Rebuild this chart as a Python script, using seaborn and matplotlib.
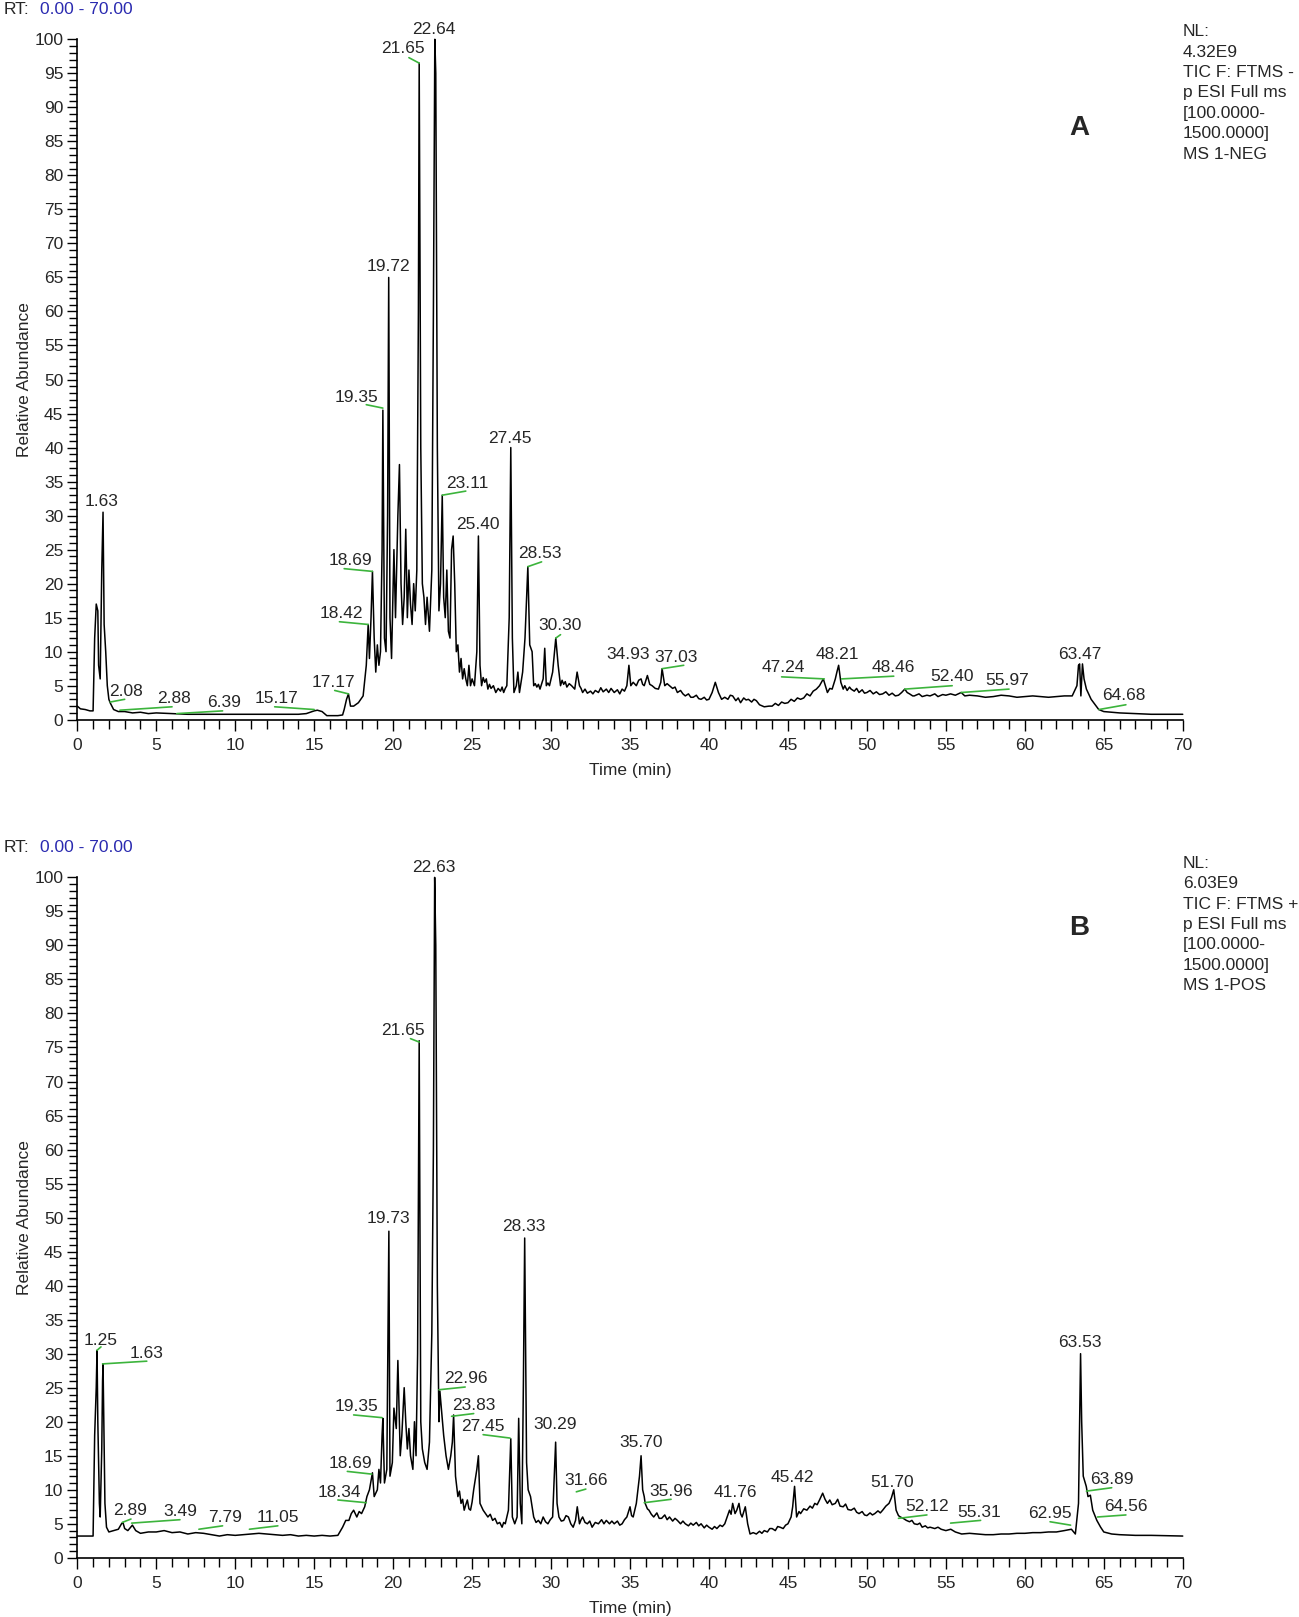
import matplotlib
matplotlib.use("Agg")
import matplotlib.pyplot as plt
import seaborn as sns
import pandas as pd
from matplotlib.ticker import MultipleLocator

# ---------------- Panel A (negative mode) trace: (time, relative abundance) ----------------
trace_a = [
    (0.0, 2.0), (0.2, 1.6), (0.5, 1.5), (0.8, 1.3), (1.0, 1.3), (1.1, 12.0), (1.2, 17.0), (1.3, 16.0),
    (1.35, 8.0), (1.45, 6.0), (1.55, 22.0), (1.63, 30.5), (1.7, 14.0), (1.8, 10.0), (1.9, 5.0),
    (2.0, 3.0), (2.08, 2.5), (2.3, 1.5), (2.6, 1.2), (3.0, 1.2), (3.5, 1.0), (4.0, 1.1), (4.5, 0.9),
    (5.0, 1.0), (6.0, 0.9), (7.0, 0.8), (8.0, 0.8), (9.0, 0.8), (10.0, 0.8), (11.0, 0.8), (12.0, 0.8),
    (13.0, 0.8), (14.0, 0.8), (14.5, 0.9), (15.0, 1.3), (15.2, 1.4), (15.5, 1.2), (15.8, 0.6),
    (16.5, 0.6), (16.8, 0.7), (16.9, 1.5), (17.05, 3.0), (17.17, 3.8), (17.3, 2.0), (17.5, 2.0),
    (17.8, 2.5), (18.1, 3.5), (18.3, 8.0), (18.42, 14.0), (18.5, 9.0), (18.6, 15.0), (18.69, 21.8),
    (18.8, 12.0), (18.9, 7.0), (19.0, 11.0), (19.1, 8.0), (19.2, 10.0), (19.3, 25.0), (19.35, 45.5),
    (19.45, 12.0), (19.55, 10.0), (19.65, 30.0), (19.72, 65.0), (19.8, 15.0), (19.9, 9.0),
    (20.05, 25.0), (20.15, 15.0), (20.3, 30.0), (20.4, 37.5), (20.5, 20.0), (20.6, 14.0),
    (20.7, 18.0), (20.8, 28.0), (20.9, 15.0), (21.0, 22.0), (21.1, 17.0), (21.2, 14.0), (21.3, 20.0),
    (21.4, 16.0), (21.5, 22.0), (21.6, 60.0), (21.65, 96.5), (21.75, 40.0), (21.85, 20.0),
    (21.95, 18.0), (22.05, 14.0), (22.15, 18.0), (22.3, 13.0), (22.45, 22.0), (22.55, 60.0),
    (22.64, 100.0), (22.7, 95.0), (22.8, 40.0), (22.9, 16.0), (23.0, 20.0), (23.11, 33.0),
    (23.2, 18.0), (23.3, 15.0), (23.4, 22.0), (23.5, 13.0), (23.6, 12.0), (23.7, 25.0), (23.8, 27.0),
    (23.9, 20.0), (24.0, 10.0), (24.1, 11.0), (24.2, 7.0), (24.3, 9.0), (24.4, 6.0), (24.5, 7.5),
    (24.6, 6.0), (24.7, 5.0), (24.8, 8.0), (24.9, 5.0), (25.0, 6.0), (25.15, 5.0), (25.3, 10.0),
    (25.4, 27.0), (25.5, 8.0), (25.6, 5.0), (25.7, 6.2), (25.8, 5.5), (25.9, 6.0), (26.0, 4.5),
    (26.1, 5.2), (26.2, 4.6), (26.35, 5.0), (26.5, 4.0), (26.65, 4.6), (26.8, 4.2), (26.9, 4.8),
    (27.0, 4.0), (27.1, 4.6), (27.2, 5.0), (27.35, 15.0), (27.45, 40.0), (27.55, 12.0), (27.65, 4.0),
    (27.8, 5.0), (27.9, 7.0), (28.0, 4.0), (28.2, 7.0), (28.35, 12.0), (28.45, 18.0), (28.53, 22.5),
    (28.65, 11.0), (28.8, 10.0), (28.9, 5.0), (29.0, 5.3), (29.1, 4.8), (29.2, 5.2), (29.3, 4.5),
    (29.5, 6.0), (29.6, 10.5), (29.7, 5.0), (29.8, 5.4), (29.9, 5.0), (30.1, 7.0), (30.3, 12.0),
    (30.45, 8.0), (30.6, 5.0), (30.7, 5.8), (30.8, 5.2), (30.9, 5.6), (31.0, 4.8), (31.15, 5.3),
    (31.3, 5.0), (31.5, 4.5), (31.65, 7.0), (31.8, 5.0), (31.9, 4.6), (32.0, 4.0), (32.15, 4.5),
    (32.3, 3.9), (32.5, 4.2), (32.65, 3.8), (32.8, 4.3), (33.0, 4.0), (33.15, 4.7), (33.3, 4.1),
    (33.5, 4.5), (33.65, 4.0), (33.8, 4.6), (34.0, 4.0), (34.2, 4.4), (34.35, 3.8), (34.5, 4.5),
    (34.65, 4.2), (34.8, 5.0), (34.93, 8.0), (35.05, 5.0), (35.2, 5.5), (35.4, 5.0), (35.55, 5.8),
    (35.7, 6.0), (35.8, 5.2), (35.9, 5.0), (36.1, 6.5), (36.25, 5.2), (36.4, 5.0), (36.6, 4.6),
    (36.8, 4.5), (36.95, 5.5), (37.03, 7.5), (37.2, 5.0), (37.35, 5.3), (37.5, 5.0), (37.7, 4.6),
    (37.85, 4.8), (38.0, 4.0), (38.2, 4.3), (38.35, 3.8), (38.5, 3.5), (38.7, 3.8), (38.85, 3.3),
    (39.0, 3.3), (39.2, 3.6), (39.35, 3.1), (39.5, 3.0), (39.7, 3.3), (39.85, 2.9), (40.0, 3.0),
    (40.2, 4.0), (40.4, 5.5), (40.6, 4.0), (40.8, 3.0), (41.0, 3.3), (41.2, 3.0), (41.35, 3.6),
    (41.5, 3.5), (41.7, 2.8), (41.85, 3.2), (42.0, 2.5), (42.2, 3.2), (42.35, 2.9), (42.5, 3.0),
    (42.7, 2.6), (42.85, 3.0), (43.0, 2.8), (43.2, 2.2), (43.5, 1.9), (43.8, 2.0), (44.0, 2.0),
    (44.2, 2.4), (44.4, 2.1), (44.6, 2.6), (44.8, 2.4), (45.0, 2.5), (45.2, 3.0), (45.4, 2.7),
    (45.6, 3.2), (45.8, 3.0), (46.0, 3.2), (46.2, 3.8), (46.4, 3.5), (46.6, 4.2), (46.8, 4.5),
    (47.0, 5.0), (47.24, 6.0), (47.4, 4.8), (47.5, 4.0), (47.65, 4.6), (47.8, 4.5), (48.0, 6.0),
    (48.1, 7.0), (48.21, 8.0), (48.35, 5.5), (48.5, 4.5), (48.6, 5.0), (48.75, 4.3), (48.9, 4.8),
    (49.0, 4.5), (49.2, 4.2), (49.35, 4.6), (49.5, 4.0), (49.7, 4.4), (49.85, 3.9), (50.0, 4.0),
    (50.2, 4.3), (50.4, 3.8), (50.6, 4.1), (50.8, 3.7), (51.0, 3.8), (51.2, 4.1), (51.4, 3.6),
    (51.6, 3.9), (51.8, 3.5), (52.0, 3.6), (52.2, 4.0), (52.4, 4.5), (52.55, 4.0), (52.7, 3.8),
    (52.9, 3.5), (53.0, 3.5), (53.3, 3.8), (53.5, 3.4), (53.8, 3.6), (54.0, 3.5), (54.3, 3.8),
    (54.5, 3.4), (54.8, 3.7), (55.0, 3.6), (55.3, 3.8), (55.6, 3.6), (55.97, 4.0), (56.2, 3.5),
    (56.5, 3.6), (57.0, 3.5), (57.5, 3.3), (58.0, 3.4), (58.5, 3.6), (59.0, 3.5), (59.5, 3.3),
    (60.0, 3.4), (60.5, 3.5), (61.0, 3.4), (61.5, 3.3), (62.0, 3.4), (62.5, 3.5), (63.0, 3.5),
    (63.3, 5.0), (63.4, 8.0), (63.47, 8.2), (63.55, 3.5), (63.65, 8.2), (63.75, 6.0), (63.9, 4.5),
    (64.2, 3.0), (64.68, 1.5), (65.0, 1.2), (66.0, 1.0), (67.0, 0.9), (68.0, 0.8), (70.0, 0.8),
]

# ---------------- Panel B (positive mode) trace ----------------
trace_b = [
    (0.0, 3.2), (1.0, 3.2), (1.1, 18.0), (1.2, 25.0), (1.25, 30.5), (1.3, 20.0), (1.4, 8.0),
    (1.45, 6.0), (1.55, 16.0), (1.6, 26.0), (1.63, 28.5), (1.7, 16.0), (1.75, 8.0), (1.85, 4.5),
    (2.0, 3.8), (2.3, 4.0), (2.6, 4.2), (2.8, 5.0), (2.89, 5.2), (3.0, 4.3), (3.2, 4.0), (3.49, 4.8),
    (3.7, 4.0), (4.0, 3.6), (4.5, 3.8), (5.0, 3.8), (5.5, 4.0), (6.0, 3.7), (6.5, 3.8), (7.0, 3.5),
    (7.5, 3.7), (8.0, 3.6), (8.5, 3.4), (9.0, 3.2), (9.5, 3.4), (10.0, 3.3), (10.5, 3.4), (11.0, 3.5),
    (11.5, 3.6), (12.0, 3.5), (12.5, 3.4), (13.0, 3.3), (13.5, 3.4), (14.0, 3.2), (14.5, 3.3),
    (15.0, 3.2), (15.5, 3.3), (16.0, 3.2), (16.5, 3.3), (16.8, 4.5), (17.0, 5.5), (17.2, 5.5),
    (17.35, 6.5), (17.5, 7.0), (17.7, 6.0), (17.85, 6.8), (18.0, 6.5), (18.2, 7.5), (18.34, 9.0),
    (18.5, 10.0), (18.69, 12.5), (18.8, 9.0), (19.0, 10.0), (19.1, 13.0), (19.2, 11.0), (19.3, 18.0),
    (19.35, 20.5), (19.45, 11.0), (19.6, 13.0), (19.73, 48.0), (19.8, 12.0), (19.95, 14.0),
    (20.05, 22.0), (20.2, 19.0), (20.3, 29.0), (20.45, 15.0), (20.55, 18.0), (20.7, 25.0),
    (20.8, 20.0), (20.9, 16.0), (21.0, 19.0), (21.1, 15.0), (21.25, 13.0), (21.35, 20.0),
    (21.45, 15.0), (21.55, 30.0), (21.65, 76.0), (21.75, 20.0), (21.85, 16.0), (22.0, 14.0),
    (22.15, 13.0), (22.3, 17.0), (22.45, 33.0), (22.55, 60.0), (22.63, 100.0), (22.7, 90.0),
    (22.8, 40.0), (22.9, 20.0), (22.96, 24.5), (23.05, 22.0), (23.2, 18.0), (23.35, 15.0),
    (23.5, 13.0), (23.65, 15.0), (23.75, 17.0), (23.83, 21.0), (23.95, 12.0), (24.1, 9.0),
    (24.2, 9.8), (24.3, 8.0), (24.4, 8.6), (24.5, 7.0), (24.6, 7.8), (24.7, 8.5), (24.8, 7.2),
    (24.9, 7.0), (25.0, 8.2), (25.1, 10.0), (25.3, 13.0), (25.4, 15.0), (25.5, 8.0), (25.6, 7.5),
    (25.7, 7.0), (25.85, 6.5), (26.0, 6.0), (26.15, 6.4), (26.3, 5.5), (26.45, 5.8), (26.6, 5.0),
    (26.75, 5.2), (26.9, 4.5), (27.0, 5.2), (27.1, 5.0), (27.3, 7.0), (27.45, 17.5), (27.55, 6.0),
    (27.7, 5.0), (27.85, 6.0), (27.95, 20.5), (28.05, 8.0), (28.15, 5.0), (28.25, 26.0),
    (28.33, 47.0), (28.45, 14.0), (28.55, 10.0), (28.7, 9.0), (28.9, 6.0), (29.05, 5.2), (29.2, 5.5),
    (29.35, 5.0), (29.5, 6.0), (29.65, 5.3), (29.8, 5.0), (29.95, 5.6), (30.1, 6.0), (30.2, 12.0),
    (30.29, 17.0), (30.38, 8.0), (30.5, 6.0), (30.65, 5.4), (30.8, 5.5), (30.95, 6.2), (31.1, 6.0),
    (31.25, 5.0), (31.4, 4.5), (31.55, 5.5), (31.66, 7.5), (31.8, 5.0), (31.9, 5.6), (32.0, 6.0),
    (32.15, 5.2), (32.3, 5.0), (32.45, 5.4), (32.6, 4.5), (32.8, 5.2), (33.0, 5.0), (33.2, 5.6),
    (33.35, 5.0), (33.5, 5.5), (33.7, 5.0), (33.85, 5.4), (34.0, 5.0), (34.2, 5.4), (34.35, 4.8),
    (34.5, 5.0), (34.65, 5.6), (34.8, 6.0), (35.0, 7.5), (35.1, 6.2), (35.2, 6.0), (35.4, 8.0),
    (35.6, 12.0), (35.7, 15.0), (35.8, 10.0), (35.9, 9.0), (35.96, 8.0), (36.1, 7.2), (36.2, 7.0),
    (36.35, 6.4), (36.5, 6.0), (36.7, 6.6), (36.85, 5.8), (37.0, 5.8), (37.2, 6.3), (37.35, 5.6),
    (37.5, 6.0), (37.7, 5.4), (37.85, 5.8), (38.0, 5.5), (38.2, 5.0), (38.35, 5.4), (38.5, 5.0),
    (38.7, 4.7), (38.85, 5.1), (39.0, 4.8), (39.2, 5.2), (39.35, 4.7), (39.5, 5.0), (39.7, 4.4),
    (39.85, 4.8), (40.0, 4.5), (40.2, 4.2), (40.35, 4.6), (40.5, 4.3), (40.7, 4.8), (40.85, 4.6),
    (41.0, 5.0), (41.15, 6.0), (41.3, 7.0), (41.4, 6.4), (41.5, 8.0), (41.65, 6.5), (41.76, 7.0),
    (41.9, 8.0), (42.0, 6.5), (42.1, 6.0), (42.3, 7.5), (42.45, 5.0), (42.6, 3.5), (42.8, 3.7),
    (43.0, 3.5), (43.2, 3.9), (43.35, 3.6), (43.5, 4.0), (43.7, 3.8), (43.85, 4.3), (44.0, 4.3),
    (44.2, 4.0), (44.35, 4.6), (44.5, 4.5), (44.7, 4.3), (44.85, 4.8), (45.0, 5.0), (45.2, 6.0),
    (45.3, 7.5), (45.42, 10.5), (45.55, 6.0), (45.7, 6.8), (45.8, 6.5), (46.0, 7.2), (46.2, 7.0),
    (46.4, 7.6), (46.55, 7.3), (46.7, 8.0), (46.85, 7.8), (47.0, 8.5), (47.2, 9.5), (47.35, 8.6),
    (47.5, 8.0), (47.65, 8.5), (47.8, 7.8), (48.0, 8.0), (48.15, 8.6), (48.3, 7.6), (48.5, 7.5),
    (48.65, 7.9), (48.8, 7.1), (49.0, 7.0), (49.2, 7.3), (49.35, 6.7), (49.5, 6.5), (49.7, 6.8),
    (49.85, 6.3), (50.0, 6.2), (50.2, 6.6), (50.35, 6.3), (50.5, 6.5), (50.7, 6.9), (50.85, 6.6),
    (51.0, 7.0), (51.2, 7.6), (51.4, 8.0), (51.55, 8.8), (51.7, 10.0), (51.85, 7.0), (52.0, 6.2),
    (52.12, 6.0), (52.3, 5.8), (52.5, 5.5), (52.7, 5.3), (52.85, 5.5), (53.0, 5.0), (53.2, 4.9),
    (53.35, 5.1), (53.5, 4.5), (53.7, 4.7), (53.85, 4.4), (54.0, 4.5), (54.3, 4.3), (54.5, 4.5),
    (54.7, 4.2), (55.0, 4.0), (55.31, 4.2), (55.6, 3.8), (56.0, 3.5), (56.5, 3.6), (57.0, 3.5),
    (57.5, 3.4), (58.0, 3.4), (58.5, 3.5), (59.0, 3.5), (59.5, 3.6), (60.0, 3.6), (60.5, 3.7),
    (61.0, 3.7), (61.5, 3.8), (62.0, 3.8), (62.5, 4.0), (62.95, 4.2), (63.2, 3.5), (63.4, 8.0),
    (63.53, 30.0), (63.6, 20.0), (63.7, 12.0), (63.89, 10.5), (64.0, 9.0), (64.15, 9.2), (64.3, 7.0),
    (64.56, 5.5), (64.8, 4.5), (65.0, 3.8), (65.5, 3.5), (66.0, 3.4), (67.0, 3.3), (68.0, 3.3),
    (70.0, 3.2),
]
time_a = [p[0] for p in trace_a]
abund_a = [p[1] for p in trace_a]
time_b = [p[0] for p in trace_b]
abund_b = [p[1] for p in trace_b]

# ---------------- Peak labels (text, x, bottom y) ----------------
labels_a = ["22.64", "21.65", "19.72", "19.35", "27.45", "23.11", "25.40", "1.63", "28.53",
            "18.69", "18.42", "17.17", "15.17", "6.39", "2.88", "2.08", "30.30", "34.93",
            "37.03", "47.24", "48.21", "48.46", "52.40", "55.97", "63.47", "64.68"]
lab_x_a = [22.6, 20.64, 19.7, 17.7, 27.4, 24.7, 25.35, 1.55, 29.3,
           17.3, 16.7, 16.2, 12.6, 9.3, 6.1, 3.1, 30.6, 34.9,
           37.9, 44.7, 48.15, 51.7, 55.4, 58.9, 63.5, 66.3]
lab_y_a = [100.3, 97.5, 65.5, 46.3, 40.2, 33.6, 27.6, 30.9, 23.3,
           22.3, 14.5, 4.4, 2.0, 1.4, 2.0, 3.0, 12.7, 8.5,
           8.1, 6.5, 8.5, 6.5, 5.2, 4.6, 8.5, 2.4]
green_a = [(21.0, 97.3, 21.65, 96.5), (18.3, 46.3, 19.35, 45.8), (23.11, 33.0, 24.6, 33.6),
           (28.53, 22.5, 29.4, 23.2), (16.9, 22.2, 18.69, 21.8), (16.6, 14.4, 18.42, 14.0),
           (16.3, 4.3, 17.17, 3.8), (12.5, 1.9, 15.0, 1.5), (6.3, 0.9, 9.2, 1.3),
           (2.7, 1.4, 6.0, 1.9), (2.08, 2.6, 3.0, 3.0), (30.3, 12.0, 30.6, 12.5),
           (37.03, 7.5, 38.4, 8.0), (44.6, 6.3, 47.3, 6.0), (48.4, 6.0, 51.7, 6.4),
           (52.4, 4.5, 55.4, 5.0), (55.97, 4.0, 59.0, 4.5), (64.7, 1.5, 66.4, 2.2)]

labels_b = ["22.63", "21.65", "19.73", "28.33", "1.25", "1.63", "2.89", "3.49", "7.79", "11.05",
            "18.34", "18.69", "19.35", "22.96", "23.83", "27.45", "30.29", "31.66", "35.70",
            "35.96", "41.76", "45.42", "51.70", "52.12", "55.31", "62.95", "63.53", "63.89",
            "64.56"]
lab_x_b = [22.55, 20.6, 19.7, 28.3, 1.5, 4.4, 3.35, 6.5, 9.35, 12.7,
           16.6, 17.3, 17.7, 24.6, 25.1, 25.7, 30.27, 32.2, 35.7,
           37.6, 41.65, 45.3, 51.6, 53.8, 57.1, 61.6, 63.5, 65.5,
           66.4]
lab_y_b = [100.3, 76.4, 48.8, 47.6, 30.9, 28.9, 5.8, 5.7, 4.8, 4.8,
           8.5, 12.7, 21.1, 25.2, 21.3, 18.2, 18.5, 10.2, 15.8,
           8.7, 8.5, 10.7, 10.0, 6.4, 5.6, 5.4, 30.6, 10.4,
           6.4]
green_b = [(21.1, 76.3, 21.65, 75.8), (1.25, 30.5, 1.5, 31.0), (1.6, 28.5, 4.4, 28.9),
           (2.85, 5.2, 3.4, 5.7), (3.44, 5.1, 6.5, 5.6), (7.7, 4.2, 9.2, 4.7),
           (10.9, 4.2, 12.7, 4.7), (16.5, 8.5, 18.3, 8.1), (17.1, 12.7, 18.65, 12.3),
           (17.5, 21.0, 19.3, 20.6), (22.9, 24.7, 24.56, 25.1), (23.7, 20.8, 25.1, 21.2),
           (25.7, 18.1, 27.4, 17.6), (31.6, 9.7, 32.2, 10.1), (35.9, 8.1, 37.6, 8.6),
           (52.0, 5.8, 53.8, 6.3), (55.3, 5.1, 57.2, 5.5), (61.6, 5.3, 62.9, 4.8),
           (63.9, 9.8, 65.5, 10.3), (64.6, 6.0, 66.4, 6.3)]

nl_a = ["NL:", "4.32E9", "TIC F: FTMS -", "p ESI Full ms", "[100.0000-", "1500.0000]", "MS 1-NEG"]
nl_b = ["NL:", "6.03E9", "TIC F: FTMS +", "p ESI Full ms", "[100.0000-", "1500.0000]", "MS 1-POS"]

# ---------------- Drawing ----------------
sns.set_style("ticks")
plt.rcParams['font.family'] = ['Liberation Sans', 'DejaVu Sans']
FS = 12.5
GREEN = '#3cb43c'
BLUE = '#2a2ab0'

fig = plt.figure(figsize=(12.99, 16.17), dpi=100)
axA = fig.add_axes([0.0595, 0.5549, 0.851, 0.4208])
axB = fig.add_axes([0.0595, 0.0366, 0.851, 0.4208])


def draw_panel(ax, t, v, labs, lx, ly, greens):
    df = pd.DataFrame({"Time (min)": t, "Relative Abundance": v})
    sns.lineplot(data=df, x="Time (min)", y="Relative Abundance", ax=ax, color='black',
                 linewidth=1.1, sort=False, estimator=None)
    for ln in ax.lines:
        ln.set_clip_on(False)
    for (x0, y0, x1, y1) in greens:
        ax.plot([x0, x1], [y0, y1], color=GREEN, lw=1.2, clip_on=False)
    for s, x, y in zip(labs, lx, ly):
        ax.text(x, y, s, ha='center', va='bottom', fontsize=FS, clip_on=False)
    ax.set_xlim(0, 70)
    ax.set_ylim(0, 100)
    ax.xaxis.set_major_locator(MultipleLocator(5))
    ax.xaxis.set_minor_locator(MultipleLocator(1))
    ax.yaxis.set_major_locator(MultipleLocator(5))
    ax.yaxis.set_minor_locator(MultipleLocator(1))
    ax.tick_params(which='major', length=7, width=1, direction='out', labelsize=FS, pad=3,
                   color='black')
    ax.tick_params(axis='x', which='major', length=8, pad=5)
    ax.tick_params(which='minor', length=5.5, width=1, direction='out', color='black')
    ax.tick_params(axis='x', which='minor', length=6.5)
    for side in ['top', 'right']:
        ax.spines[side].set_visible(False)
    for side in ['left', 'bottom']:
        ax.spines[side].set_linewidth(1.2)
        ax.spines[side].set_color('black')
    ax.set_xlabel("Time (min)", fontsize=FS, labelpad=7)
    ax.set_ylabel("Relative Abundance", fontsize=FS)
    ax.yaxis.set_label_coords(-0.041, 0.5)
    ax.grid(False)


draw_panel(axA, time_a, abund_a, labels_a, lab_x_a, lab_y_a, green_a)
draw_panel(axB, time_b, abund_b, labels_b, lab_x_b, lab_y_b, green_b)

# header texts
for (ytop, nl, letter, ylet, nlgap) in [(0.9988, nl_a, "A", 0.9208, 0.0138),
                                         (0.4803, nl_b, "B", 0.4262, 0.0095)]:
    fig.text(0.003, ytop, "RT:", fontsize=FS, ha='left', va='top')
    fig.text(0.0305, ytop, "0.00 - 70.00", fontsize=FS, ha='left', va='top', color=BLUE)
    fig.text(0.831, ylet, letter, fontsize=20, fontweight='bold', ha='center', va='center')
    fig.text(0.9107, ytop - nlgap, "\n".join(nl), fontsize=FS, ha='left', va='top',
             linespacing=1.45)

fig.savefig("out.png", dpi=100, facecolor='white')
